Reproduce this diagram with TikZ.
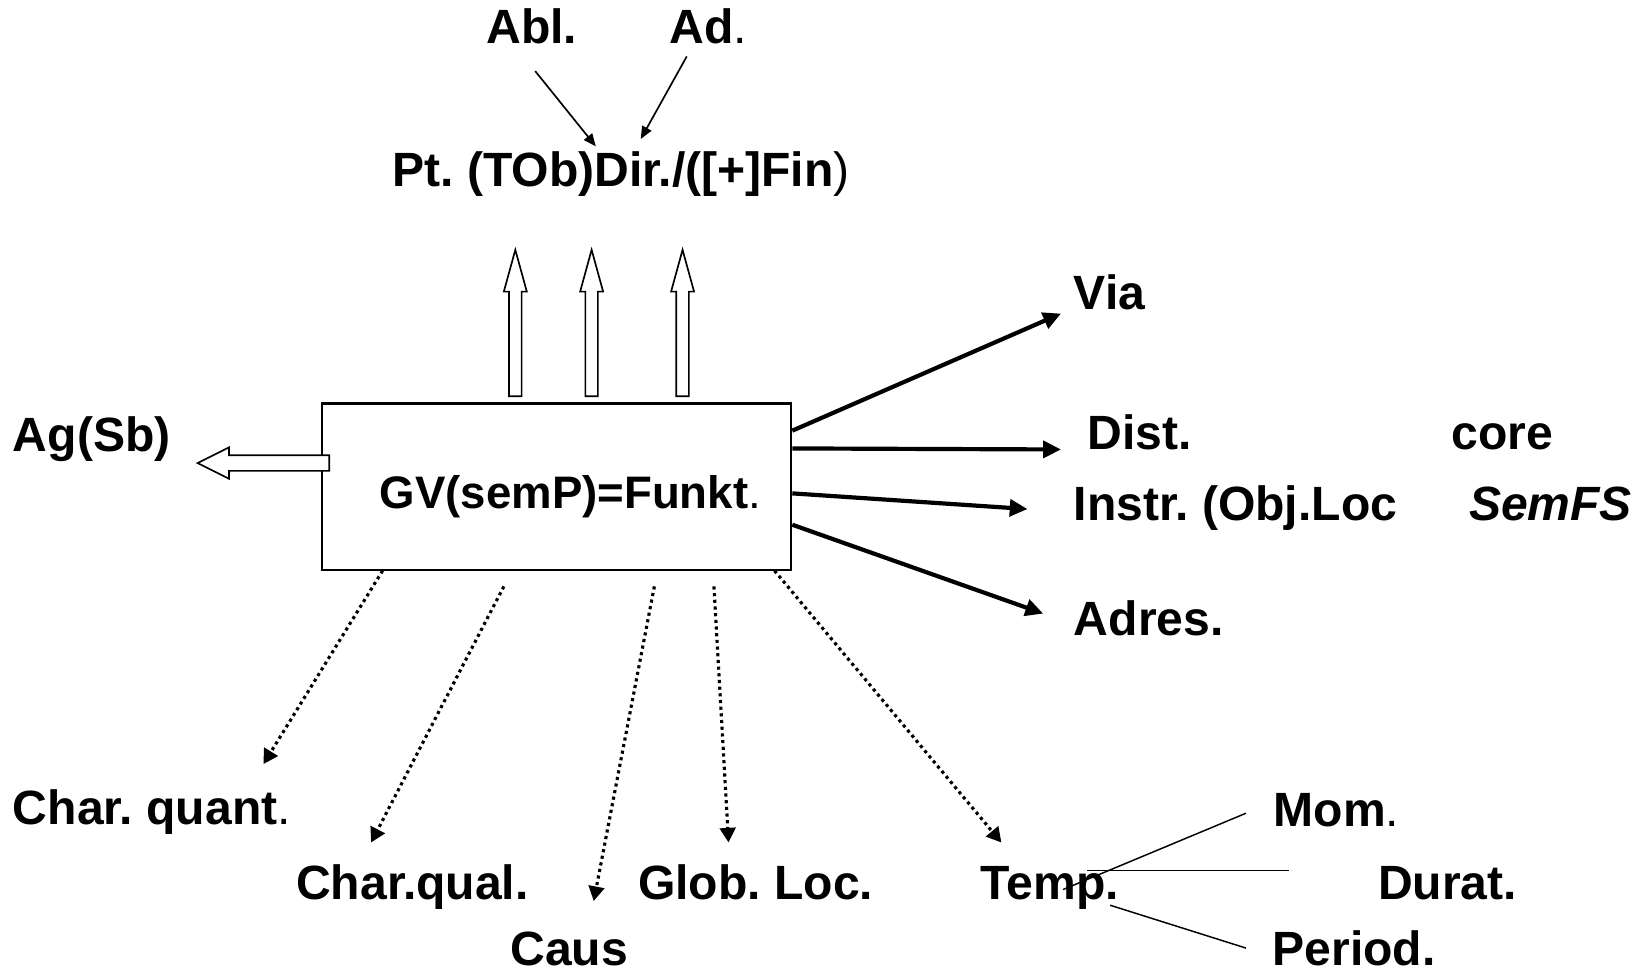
\documentclass[tikz,border=0pt]{standalone}
\usepackage{fontspec}
\setmainfont{Liberation Sans}
\usetikzlibrary{arrows.meta}
\frenchspacing

% hollow block arrow pointing up, drawn from the middle of its tail
\newcommand\hollowup[1]{\draw[hollow] (#1) ++(-6,0) -- ++(0,-100) -- ++(-5,0) -- ++(11,-40) -- ++(11,40) -- ++(-5,0) -- ++(0,100) -- cycle;}

\begin{document}
\begin{tikzpicture}[x=0.5pt,y=-0.5pt,
  lbl/.style={anchor=base west,inner sep=0pt,font=\fontsize{23}{27}\selectfont\bfseries},
  frame/.style={draw,line width=1pt,minimum width=224.5pt,minimum height=79.5pt,inner sep=0pt},
  thin/.style={line width=0.8pt,-{Triangle[length=6pt,width=5pt]}},
  fat/.style={line width=2pt,-{Triangle[length=8.5pt,width=8pt]}},
  dots/.style={line width=1.5pt,dash pattern=on 1.5pt off 1.7pt,-{Triangle[length=7pt,width=7.5pt]}},
  twig/.style={line width=0.7pt},
  hollow/.style={draw,fill=white,line width=0.8pt,line join=miter}]

 \fill[white] (0,0) rectangle (1568,931);
 \useasboundingbox (0,0) rectangle (1568,931);

 \node[frame] (gv) at (532.5,465.5) {};
 \node[lbl,font=\fontsize{21.8}{26}\selectfont\bfseries] (funkt) at (363,486) {GV(semP)=Funkt\textmd{.}};

 \node[lbl] (abl) at (465,42) {Abl.};
 \node[lbl] (ad) at (640,42) {Ad\textmd{.}};
 \node[lbl] (pt) at (375,178) {Pt. (TOb)Dir./([+]Fin\textmd{)}};
 \node[lbl] (ag) at (12,432) {Ag(Sb)};

 \node[lbl] (via) at (1027,296) {Via};
 \node[lbl] (dist) at (1040,430) {Dist.};
 \node[lbl] (core) at (1388,430) {core};
 \node[lbl] (instr) at (1027,498) {Instr. (Obj.Loc};
 \node[lbl] (semfs) at (1405,498) {\itshape SemFS};
 \node[lbl] (adres) at (1027,608) {Adres.};

 \node[lbl] (cquant) at (12,789) {Char. quant\textmd{.}};
 \node[lbl] (cqual) at (283,861) {Char.qual.};
 \node[lbl] (caus) at (488,924) {Caus};
 \node[lbl] (glob) at (610,861) {Glob. Loc.};
 \node[lbl] (temp) at (938,861) {Temp.};
 \node[lbl] (mom) at (1218,791) {Mom\textmd{.}};
 \node[lbl] (durat) at (1318,861) {Durat.};
 \node[lbl] (period) at (1217,924) {Period.};

 % Abl. / Ad. into the direction line
 \draw[thin] ([xshift=23.5pt,yshift=-13pt]abl.base west) -- ([xshift=97.5pt,yshift=19pt]pt.base west);
 \draw[thin] ([xshift=8.5pt,yshift=-6pt]ad.base west) -- ([xshift=119pt,yshift=22.5pt]pt.base west);

 % block arrows
 \hollowup{[xshift=-19.75pt,yshift=3pt]gv.north}
 \hollowup{[xshift=16.75pt,yshift=3pt]gv.north}
 \hollowup{[xshift=60.25pt,yshift=3pt]gv.north}
 \draw[hollow] ([xshift=4pt,yshift=-29pt]gv.north west) ++(0,-7.5) -- ++(-96,0) -- ++(0,-7.5) -- ++(-30,15) -- ++(30,15) -- ++(0,-7.5) -- ++(96,0) -- cycle;

 % core participants
 \draw[fat] ([yshift=-13.5pt]gv.north east) -- ([xshift=-6pt,yshift=-2pt]via.base west);
 \draw[fat] ([yshift=-22pt]gv.north east) -- ([xshift=-12.5pt]dist.base west);
 \draw[fat] ([yshift=-43.5pt]gv.north east) -- ([xshift=-22pt,yshift=5.5pt]instr.base west);
 \draw[fat] ([yshift=-58.5pt]gv.north east) -- ([xshift=-14.5pt,yshift=10.5pt]adres.base west);

 % circumstants
 \draw[dots] ([xshift=29.5pt]gv.south west) -- ([xshift=120pt,yshift=29pt]cquant.base west);
 \draw[dots] ([xshift=87.5pt,yshift=-7.5pt]gv.south west) -- ([xshift=36pt,yshift=27.5pt]cqual.base west);
 \draw[dots] ([xshift=159.5pt,yshift=-7.5pt]gv.south west) -- ([xshift=40pt,yshift=31pt]caus.base west);
 \draw[dots] ([xshift=188pt,yshift=-7.5pt]gv.south west) -- ([xshift=43.5pt,yshift=27.5pt]glob.base west);
 \draw[dots] ([xshift=217pt]gv.south west) -- ([xshift=10pt,yshift=27.5pt]temp.base west);

 % kinds of Temp.
 \draw[twig] ([xshift=39.5pt,yshift=5pt]temp.base west) -- ([xshift=-13pt,yshift=6.5pt]mom.base west);
 \draw[twig] ([xshift=51pt,yshift=14pt]temp.base west) -- ([xshift=-42.5pt,yshift=14pt]durat.base west);
 \draw[twig] ([xshift=62pt,yshift=-2.5pt]temp.base west) -- ([xshift=-12.5pt,yshift=8.5pt]period.base west);
\end{tikzpicture}
\end{document}
